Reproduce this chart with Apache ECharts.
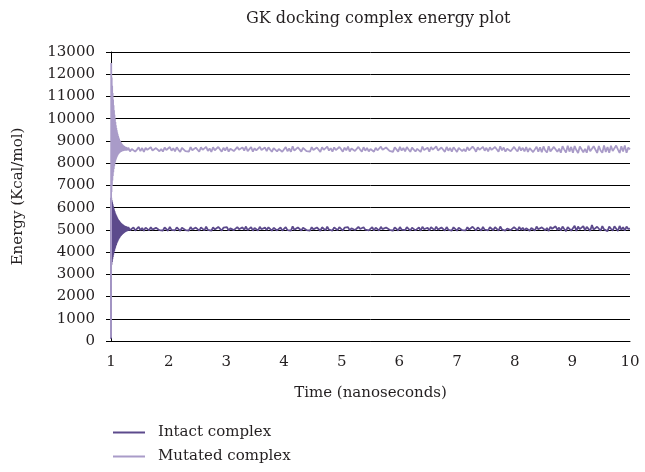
<!DOCTYPE html>
<html><head><meta charset="utf-8">
<script src="https://cdn.jsdelivr.net/npm/echarts@6/dist/echarts.min.js"></script>
<style>html,body{margin:0;padding:0;background:#fff}#c{width:645px;height:472px}</style>
</head><body><div id="c"></div>
<script>
const titleText = 'GK docking complex energy plot';
const xName = 'Time (nanoseconds)';
const yName = 'Energy (Kcal/mol)';
const seriesNames = ['Intact complex', 'Mutated complex'];
const xMin = 1, xMax = 10, xInterval = 1;
const yMin = 0, yMax = 13000, yInterval = 1000;

// sampling of the time axis (ns)
const startT0 = 1.0, startStep = 0.004;   // dense samples during equilibration
const steadyT0 = 1.30, steadyStep = 0.03; // samples of the plateau

const intactStart = [100, 6443, 3435, 6336, 3559, 6238, 3673, 6146, 3779, 6062, 3877, 5984, 3967, 5913, 4051, 5846, 4128, 5785, 4198, 5729, 4264, 5676, 4324, 5629, 4380, 5584, 4432, 5543, 4479, 5504, 4523, 5469, 4563, 5437, 4600, 5408, 4635, 5381, 4667, 5355, 4696, 5331, 4724, 5310, 4749, 5289, 4772, 5272, 4793, 5254, 4813, 5239, 4831, 5224, 4848, 5211, 4864, 5198, 4878, 5186, 4891, 5176, 4903, 5166, 4915, 5157, 4925, 5150, 4935, 5141, 4944, 5134, 4952, 5128, 4959];

const mutatedStart = [150, 12500, 6705, 11850, 6983, 11480, 7219, 11152, 7420, 10863, 7592, 10606, 7738, 10379, 7863, 10180, 7969, 10003, 8059, 9846, 8136, 9708, 8202, 9585, 8258, 9477, 8305, 9381, 8346, 9296, 8380, 9221, 8410, 9155, 8435, 9097, 8457, 9045, 8475, 8999, 8490, 8959, 8504, 8923, 8515, 8891, 8525, 8864, 8533, 8839, 8540, 8817, 8546, 8798, 8551, 8781, 8555, 8765, 8558, 8752, 8561, 8740, 8563, 8730, 8565, 8720, 8566, 8712, 8567, 8705, 8568, 8699, 8569, 8693, 8570];

const intactSteady = [
5120, 4980, 5060, 5110, 4970, 5040, 5130, 4990, 5080, 4960,
5100, 5030, 4975, 5115, 5010, 4965, 5090, 5125, 4985, 5050,
4970, 5105, 5020, 4960, 5135, 5000, 5085, 4975, 5110, 5030,
4955, 5095, 5120, 4990, 5040, 4970, 5125, 5015, 4980, 5100,
5060, 4965, 5110, 5035, 4975, 5140, 4995, 5070, 4960, 5115,
5020, 4980, 5130, 5045, 4965, 5095, 5010, 5120, 4970, 5065,
5105, 4990, 4960, 5125, 5030, 4975, 5110, 5000, 5150, 4985,
5055, 5120, 4965, 5080, 5010, 4970, 5135, 5025, 4980, 5100,
4990, 5115, 5040, 4960, 5090, 5130, 4975, 5060, 5105, 4965,
5035, 5125, 4985, 5070, 4960, 5160, 5000, 4975, 5110, 5045,
4970, 5095, 5130, 4990, 5050, 4965, 5120, 5020, 4980, 5105,
5065, 4960, 5115, 5030, 4975, 5140, 5005, 5085, 4970, 5110,
5025, 4985, 5125, 5050, 4965, 5095, 5015, 5120, 4975, 5070,
5100, 4990, 4960, 5130, 5040, 4970, 5115, 5005, 5085, 4980,
5060, 5125, 4965, 5090, 5020, 4975, 5135, 5030, 4985, 5105,
5150, 5000, 5060, 4960, 5110, 5040, 4970, 5125, 5010, 5080,
4985, 5120, 5045, 4965, 5100, 5130, 4975, 5055, 5110, 4960,
5140, 5025, 4980, 5095, 4970, 5120, 5035, 4985, 5145, 5010,
4975, 5105, 5060, 4965, 5125, 5000, 5085, 4970, 5115, 5040,
4960, 5095, 5130, 4985, 5050, 4975, 5120, 5010, 4980, 5140,
5065, 4970, 5110, 5030, 4965, 5135, 5005, 5090, 4975, 5115,
5035, 4980, 5125, 5055, 4960, 5150, 5015, 5100, 4970, 5060,
5110, 4985, 4965, 5120, 5040, 4975, 5130, 5000, 5090, 4980,
5070, 5135, 4960, 5085, 5025, 4970, 5145, 5030, 4985, 5110,
5170, 4980, 5080, 4950, 5140, 5045, 4960, 5160, 5000, 5100,
4965, 5150, 5040, 4945, 5125, 5175, 4960, 5070, 5180, 4955,
5145, 5030, 4950, 5165, 4975, 5130, 5060, 4955, 5220, 5010,
4950, 5140, 5090, 4960, 5170, 5020, 5105, 4945, 5150, 5050,
4960, 5160, 5080, 4950, 5175, 5000, 5120, 4965, 5145, 5040,
5060];

const mutatedSteady = [
8700, 8530, 8640, 8720, 8520, 8610, 8710, 8540, 8680, 8510,
8690, 8600, 8525, 8715, 8570, 8515, 8680, 8730, 8535, 8640,
8520, 8700, 8590, 8510, 8725, 8560, 8675, 8530, 8710, 8600,
8505, 8690, 8740, 8545, 8620, 8520, 8720, 8580, 8530, 8700,
8640, 8515, 8710, 8600, 8525, 8735, 8550, 8660, 8510, 8715,
8580, 8530, 8730, 8620, 8515, 8690, 8570, 8720, 8520, 8650,
8705, 8545, 8510, 8725, 8600, 8525, 8710, 8560, 8750, 8535,
8630, 8720, 8515, 8670, 8575, 8520, 8735, 8590, 8530, 8700,
8545, 8715, 8610, 8510, 8680, 8730, 8525, 8640, 8705, 8515,
8600, 8725, 8535, 8660, 8510, 8760, 8560, 8525, 8710, 8620,
8520, 8690, 8735, 8545, 8630, 8515, 8720, 8590, 8530, 8705,
8650, 8510, 8715, 8600, 8525, 8740, 8565, 8675, 8520, 8710,
8585, 8535, 8725, 8630, 8515, 8695, 8575, 8745, 8525, 8660,
8700, 8545, 8510, 8730, 8610, 8520, 8715, 8560, 8680, 8530,
8640, 8725, 8515, 8690, 8580, 8525, 8740, 8600, 8535, 8705,
8755, 8555, 8640, 8505, 8710, 8620, 8520, 8730, 8570, 8680,
8530, 8720, 8615, 8510, 8700, 8735, 8525, 8645, 8710, 8505,
8745, 8590, 8530, 8695, 8515, 8725, 8605, 8535, 8750, 8570,
8520, 8705, 8650, 8510, 8730, 8560, 8685, 8520, 8715, 8615,
8505, 8690, 8740, 8540, 8630, 8525, 8720, 8575, 8530, 8745,
8655, 8515, 8710, 8600, 8520, 8735, 8560, 8690, 8525, 8715,
8595, 8530, 8725, 8640, 8510, 8760, 8575, 8700, 8520, 8650,
8710, 8535, 8515, 8730, 8615, 8525, 8740, 8565, 8690, 8530,
8720, 8510, 8680, 8750, 8500, 8620, 8740, 8520, 8710, 8490,
8750, 8570, 8480, 8760, 8530, 8500, 8730, 8770, 8510, 8650,
8470, 8760, 8610, 8480, 8780, 8520, 8730, 8470, 8770, 8590,
8460, 8750, 8790, 8490, 8640, 8470, 8780, 8540, 8480, 8760,
8700, 8460, 8770, 8570, 8470, 8800, 8500, 8730, 8470, 8780,
8550, 8480, 8790, 8620, 8460, 8760, 8520, 8800, 8470, 8700,
8620];

const seriesColors = ['#5c4a8c', '#a99bc8'];
const FONT = 'DejaVu Serif';

function buildPairs(startVals, steadyVals) {
  const out = [];
  startVals.forEach((v, i) => out.push([+(startT0 + i * startStep).toFixed(4), v]));
  steadyVals.forEach((v, i) => out.push([+(steadyT0 + i * steadyStep).toFixed(4), v]));
  return out;
}
const intactData = buildPairs(intactStart, intactSteady);
const mutatedData = buildPairs(mutatedStart, mutatedSteady);

const chart = echarts.init(document.getElementById('c'), null, {renderer: 'canvas'});
chart.setOption({
  animation: false,
  backgroundColor: '#fff',
  title: {
    text: titleText, left: 241, top: 6,
    textStyle: {fontFamily: FONT, fontSize: 16, fontWeight: 'normal', color: '#231f20'}
  },
  legend: {
    orient: 'vertical', left: 113, top: 425, padding: 0, itemGap: 9,
    itemWidth: 32, itemHeight: 2, icon: 'rect',
    data: seriesNames,
    textStyle: {fontFamily: FONT, fontSize: 15, color: '#231f20', padding: [0, 0, 0, 8]}
  },
  grid: {left: 111, right: 15, top: 52, bottom: 131, containLabel: false},
  xAxis: {
    type: 'value', min: xMin, max: xMax, interval: xInterval,
    name: xName, nameLocation: 'middle', nameGap: 45,
    nameTextStyle: {fontFamily: FONT, fontSize: 15, color: '#231f20'},
    axisLine: {show: true, lineStyle: {color: '#000', width: 1}},
    axisTick: {show: false},
    axisLabel: {fontFamily: FONT, fontSize: 15, color: '#231f20', margin: 14},
    splitLine: {show: false}
  },
  yAxis: {
    type: 'value', min: yMin, max: yMax, interval: yInterval,
    name: yName, nameLocation: 'middle', nameGap: 85, nameRotate: 90,
    nameTextStyle: {fontFamily: FONT, fontSize: 15, color: '#231f20'},
    axisLine: {show: true, lineStyle: {color: '#000', width: 1}},
    axisTick: {show: true, inside: false, length: 5, lineStyle: {color: '#000'}},
    axisLabel: {fontFamily: FONT, fontSize: 15, color: '#231f20', margin: 16,
                formatter: v => String(v)},
    splitLine: {show: true, lineStyle: {color: '#000', width: 1}}
  },
  series: [
    {name: seriesNames[0], type: 'line', data: intactData, showSymbol: false, symbol: 'none',
     lineStyle: {color: seriesColors[0], width: 1.8}, itemStyle: {color: seriesColors[0]}, z: 2},
    {name: seriesNames[1], type: 'line', data: mutatedData, showSymbol: false, symbol: 'none',
     lineStyle: {color: seriesColors[1], width: 1.8}, itemStyle: {color: seriesColors[1]}, z: 3}
  ]
});
</script></body></html>
